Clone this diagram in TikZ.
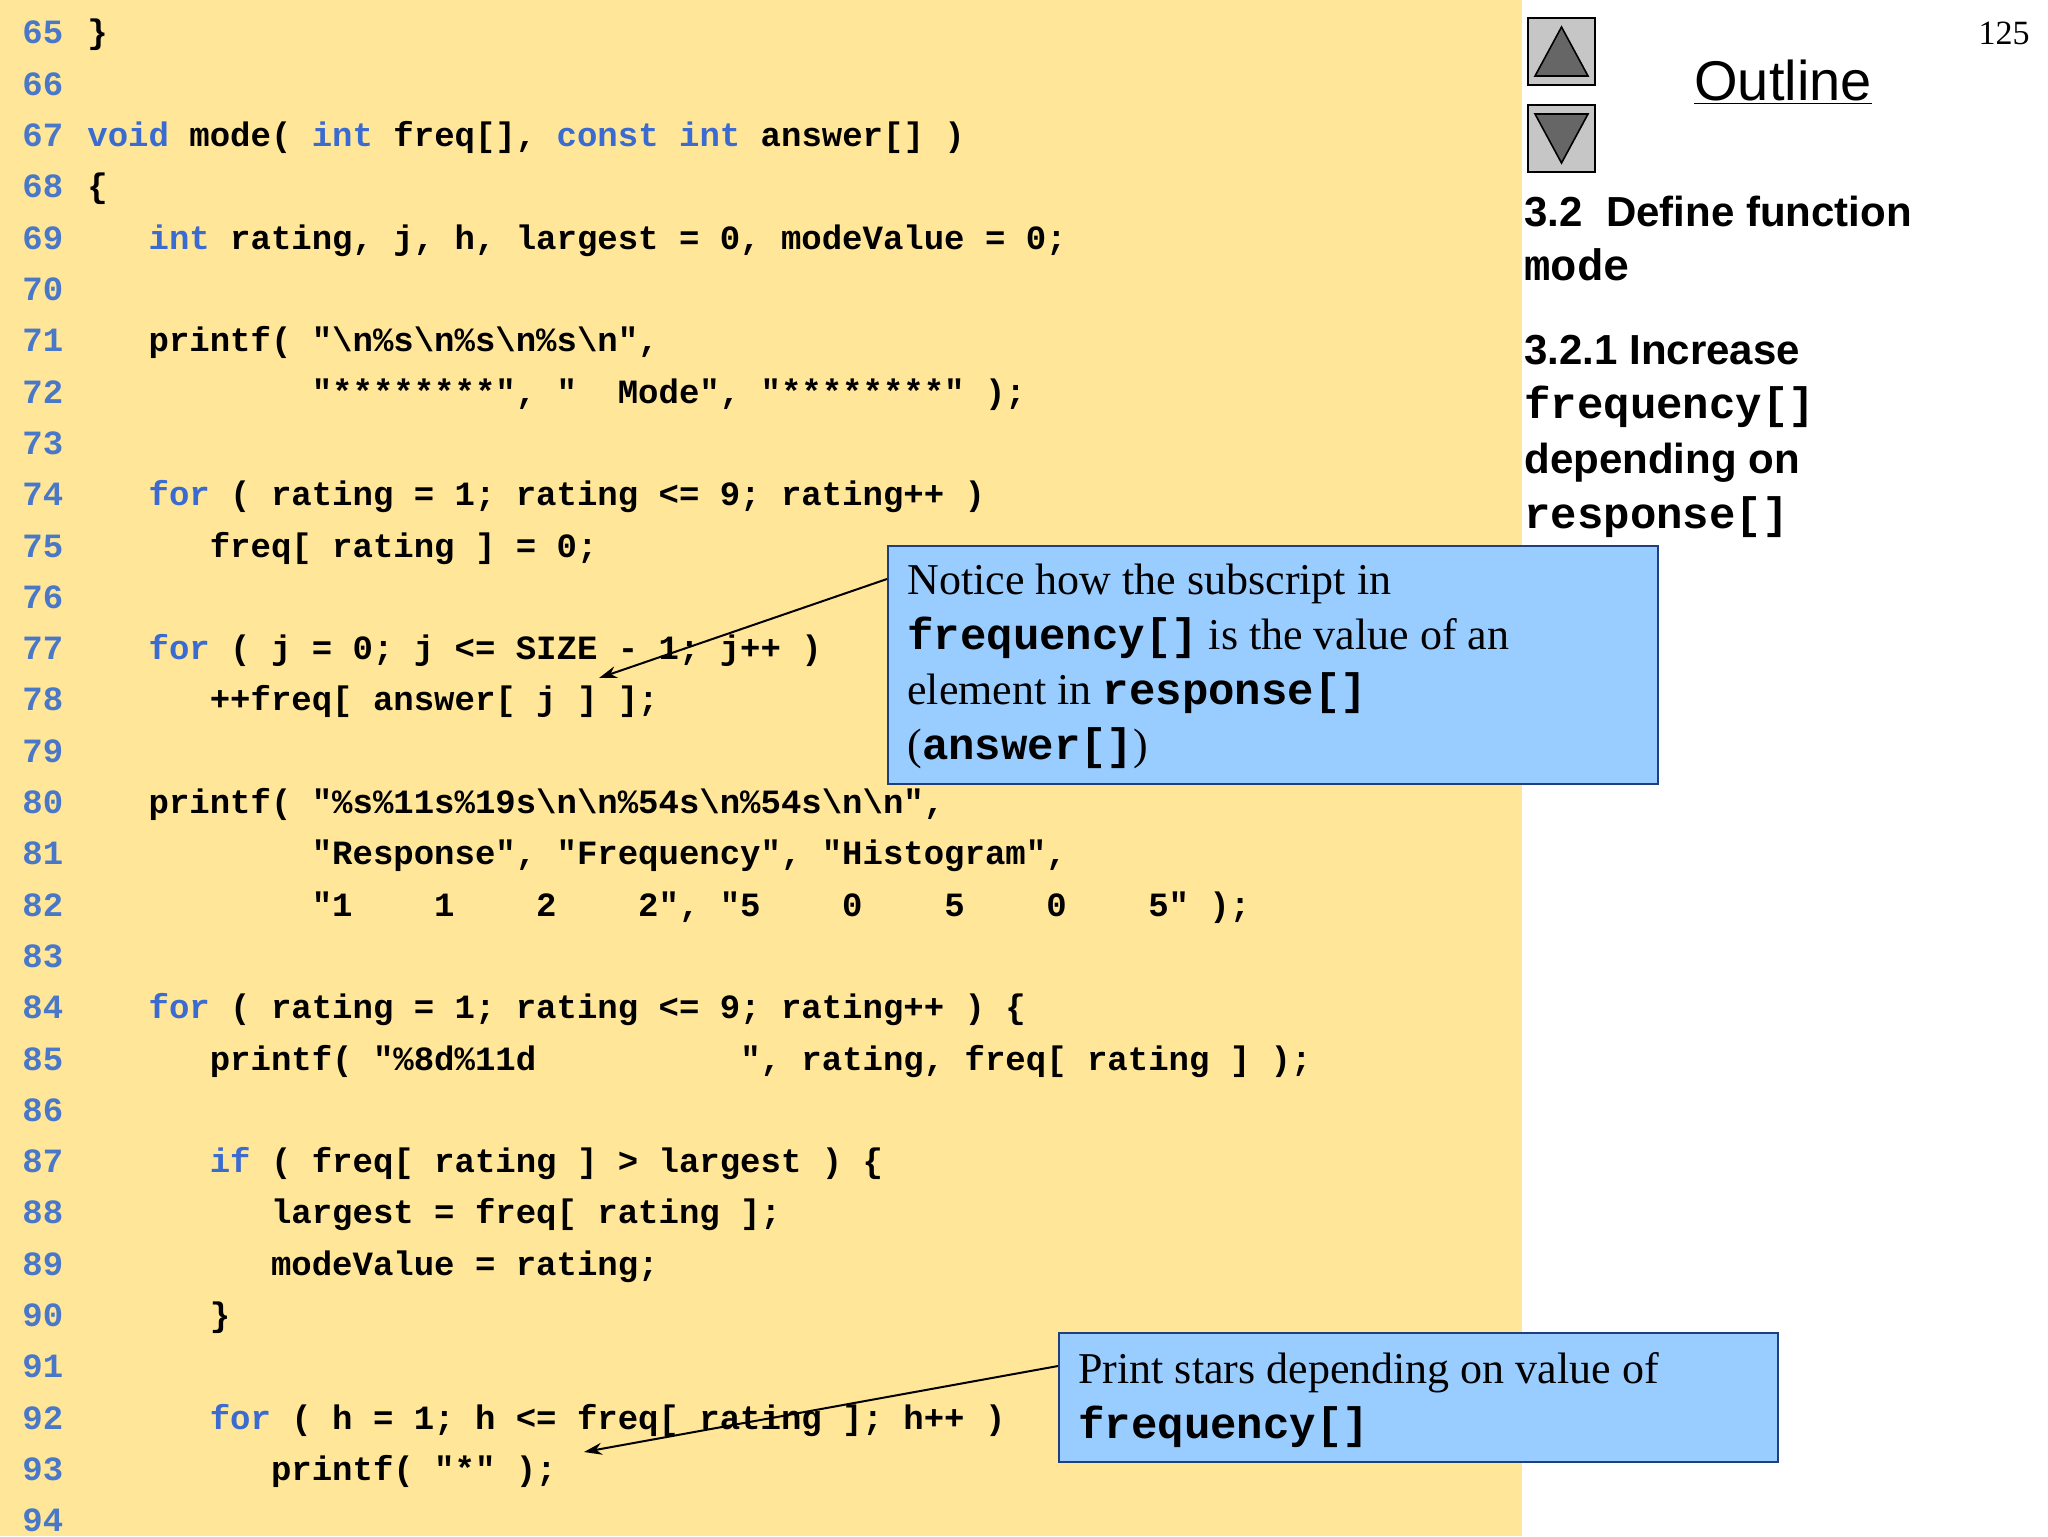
\documentclass[tikz,border=0pt]{standalone}
\usepackage{fontspec}
\setmainfont{Liberation Serif}
\setsansfont{Liberation Sans}
\setmonofont{Liberation Mono}
\usetikzlibrary{arrows.meta}
\definecolor{bgy}{HTML}{FFE699}
\definecolor{lnum}{HTML}{4A78C8}
\definecolor{kw}{HTML}{3A6BD0}
\definecolor{cbox}{HTML}{99CCFF}
\definecolor{cedge}{HTML}{1F3F7F}
\newcommand{\kw}[1]{\textcolor{kw}{#1}}
\newcommand{\cf}{\fontsize{17pt}{20pt}\ttfamily\bfseries}
\newcommand{\mb}[1]{{\ttfamily\bfseries #1}}
\newcommand{\cln}[3]{%
  \node[numtxt] (n#1) at (22,{44+51.3*(#1-65)}) {#1};
  \node[codetxt] (l#1) at ({87+20.4*#2},{44+51.3*(#1-65)}) {#3};}
\begin{document}
\begin{tikzpicture}[x=0.5pt,y=-0.5pt,
  numtxt/.style={anchor=base west,inner sep=0,font=\cf,text=lnum},
  codetxt/.style={anchor=base west,inner sep=0,font=\cf},
  callbox/.style={draw=cedge,line width=1pt,fill=cbox,anchor=north west,inner sep=0},
  calltxt/.style={anchor=north west,inner sep=0,align=left,font=\fontsize{22pt}{27.5pt}\selectfont},
  pointer/.style={-{Stealth[length=9pt,width=6pt]},line width=1pt},
  btn/.style={draw=black,line width=1pt,fill=gray!45,minimum size=33.5pt,inner sep=0,anchor=north west}]
\useasboundingbox (0,0) rectangle (2048,1536);
\fill[bgy] (0,0) rectangle (1522,1536);
\fill[white] (1522,0) rectangle (2048,1536);
\cln{65}{0}{\}}
\cln{66}{0}{}
\cln{67}{0}{\kw{void} mode( \kw{int} freq[], \kw{const} \kw{int} answer[] )}
\cln{68}{0}{\{}
\cln{69}{3}{\kw{int} rating, j, h, largest = 0, modeValue = 0;}
\cln{70}{0}{}
\cln{71}{3}{printf( "\textbackslash n\%s\textbackslash n\%s\textbackslash n\%s\textbackslash n",}
\cln{72}{11}{"********", "~~Mode", "********" );}
\cln{73}{0}{}
\cln{74}{3}{\kw{for} ( rating = 1; rating <= 9; rating++ )}
\cln{75}{6}{freq[ rating ] = 0;}
\cln{76}{0}{}
\cln{77}{3}{\kw{for} ( j = 0; j <= SIZE - 1; j++ )}
\cln{78}{6}{++freq[ answer[ j ] ];}
\cln{79}{0}{}
\cln{80}{3}{printf( "\%s\%11s\%19s\textbackslash n\textbackslash n\%54s\textbackslash n\%54s\textbackslash n\textbackslash n",}
\cln{81}{11}{"Response", "Frequency", "Histogram",}
\cln{82}{11}{"1~~~~1~~~~2~~~~2", "5~~~~0~~~~5~~~~0~~~~5" );}
\cln{83}{0}{}
\cln{84}{3}{\kw{for} ( rating = 1; rating <= 9; rating++ ) \{}
\cln{85}{6}{printf( "\%8d\%11d~~~~~~~~~~", rating, freq[ rating ] );}
\cln{86}{0}{}
\cln{87}{6}{\kw{if} ( freq[ rating ] > largest ) \{}
\cln{88}{9}{largest = freq[ rating ];}
\cln{89}{9}{modeValue = rating;}
\cln{90}{6}{\}}
\cln{91}{0}{}
\cln{92}{6}{\kw{for} ( h = 1; h <= freq[ rating ]; h++ )}
\cln{93}{9}{printf( "*" );}
\cln{94}{0}{}
% right panel
\node[btn] (up) at (1527,17) {};
\fill[gray!80!black,draw=black,line width=0.8pt] ([shift={(8,-10)}]up.south west) -- ([shift={(-8,-10)}]up.south east) -- ([shift={(0,10)}]up.north) -- cycle;
\node[btn] (down) at (1527,104) {};
\fill[gray!80!black,draw=black,line width=0.8pt] ([shift={(8,10)}]down.north west) -- ([shift={(-8,10)}]down.north east) -- ([shift={(0,-10)}]down.south) -- cycle;
\node[anchor=north east,inner sep=0,font=\fontsize{17pt}{20pt}\selectfont] (pg) at (2030,22) {125};
\node[inner sep=0,font=\sffamily\fontsize{28pt}{32pt}\selectfont] (outl) at (1783,82) {\underline{Outline}};
\node[anchor=base west,inner sep=0,font=\sffamily\bfseries\fontsize{21pt}{24pt}\selectfont] (h1) at (1524,226) {3.2~~Define function};
\node[anchor=base west,inner sep=0,font=\fontsize{22pt}{24pt}\selectfont] (h1b) at (1524,280) {\mb{mode}};
\node[anchor=base west,inner sep=0,font=\sffamily\bfseries\fontsize{21pt}{24pt}\selectfont] (h2) at (1524,364) {3.2.1 Increase};
\node[anchor=base west,inner sep=0,font=\fontsize{22pt}{24pt}\selectfont] (h2b) at (1524,418) {\mb{frequency[]}};
\node[anchor=base west,inner sep=0,font=\sffamily\bfseries\fontsize{21pt}{24pt}\selectfont] (h2c) at (1524,473) {depending on};
\node[anchor=base west,inner sep=0,font=\fontsize{22pt}{24pt}\selectfont] (h2d) at (1524,528) {\mb{response[]}};
% callouts
\node[callbox,minimum width=385pt,minimum height=119pt] (c1) at (887,545) {};
\node[calltxt] (t1) at (907,564) {Notice how the subscript in\\\mb{frequency[]} is the value of an\\element in \mb{response[]}\\(\mb{answer[]})};
\coordinate (c1p) at (887,579);
\coordinate (a1) at (599,678);
\draw[pointer] (c1p) -- (a1);
\node[callbox,minimum width=359.5pt,minimum height=64.5pt] (c2) at (1058,1332) {};
\node[calltxt] (t2) at (1078,1352) {Print stars depending on value of\\\mb{frequency[]}};
\coordinate (c2p) at (1058,1366);
\coordinate (a2) at (584,1452);
\draw[pointer] (c2p) -- (a2);
\end{tikzpicture}
\end{document}
